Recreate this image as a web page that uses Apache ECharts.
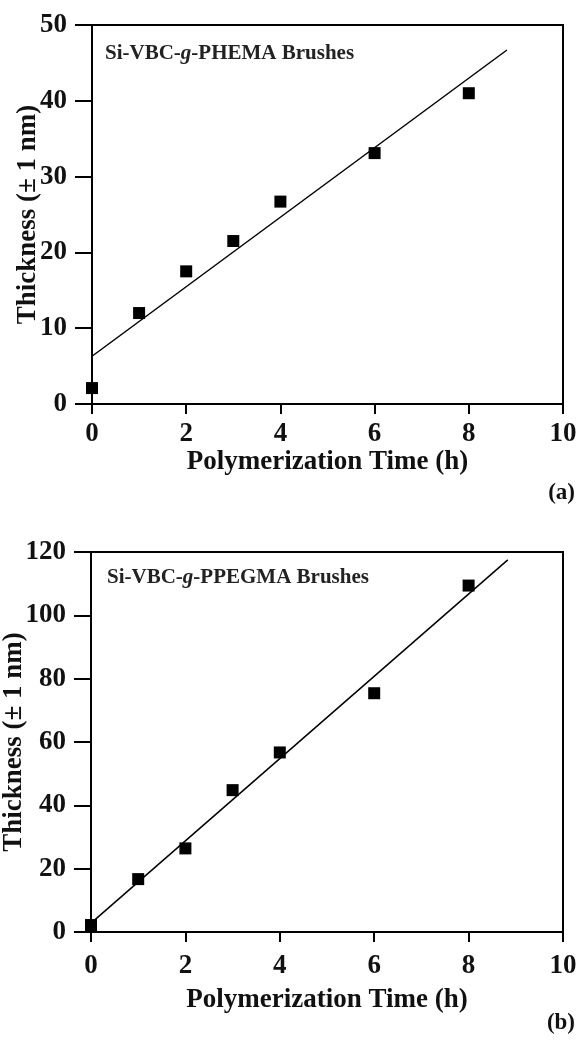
<!DOCTYPE html>
<html>
<head>
<meta charset="utf-8">
<script src="https://cdn.jsdelivr.net/npm/echarts@6/dist/echarts.min.js"></script>
<style>
html,body{margin:0;padding:0;background:#fff;}
#c{width:580px;height:1040px;}
</style>
</head>
<body>
<div id="c"></div>
<script>
// ---- data ----
const timeA = [0, 1, 2, 3, 4, 6, 8];
const thickA = [2.1, 12.0, 17.5, 21.5, 26.7, 33.1, 41.0];
const fitTimeA = [0, 8.81];
const fitThickA = [6.3, 46.7];

const timeB = [0, 1, 2, 3, 4, 6, 8];
const thickB = [2.2, 16.7, 26.4, 44.8, 56.7, 75.4, 109.4];
const fitTimeB = [0, 8.83];
const fitThickB = [2.8, 117.5];

const xTicks = [0, 2, 4, 6, 8, 10];
const yTicksA = [0, 10, 20, 30, 40, 50];
const yTicksB = [0, 20, 40, 60, 80, 100, 120];

const xName = 'Polymerization Time (h)';
const yName = 'Thickness (\u00B1 1 nm)';
const labelA = 'Si-VBC-{i|g}-PHEMA Brushes';
const labelB = 'Si-VBC-{i|g}-PPEGMA Brushes';
const panelA = '(a)';
const panelB = '(b)';

// ---- chart ----
const FONT = '"Liberation Serif", "Times New Roman", serif';
const pairs = (xs, ys) => xs.map((x, i) => [x, ys[i]]);

function xAxis(gi, labelMargin, nameGap) {
  return {
    type: 'value', gridIndex: gi, min: xTicks[0], max: xTicks[xTicks.length - 1], interval: 2,
    name: xName, nameLocation: 'middle', nameGap: nameGap, nameMoveOverlap: false,
    nameTextStyle: { fontFamily: FONT, fontWeight: 'bold', fontSize: 27, color: '#111' },
    axisLine: { show: true, onZero: false, lineStyle: { color: '#000', width: 2 } },
    axisTick: { show: true, inside: false, length: 10, lineStyle: { color: '#000', width: 2 } },
    axisLabel: { margin: labelMargin, fontFamily: FONT, fontWeight: 'bold', fontSize: 27, color: '#111' },
    splitLine: { show: false }
  };
}
function yAxis(gi, ticks, nameGap) {
  return {
    type: 'value', gridIndex: gi, min: ticks[0], max: ticks[ticks.length - 1], interval: ticks[1] - ticks[0],
    name: yName, nameLocation: 'middle', nameGap: nameGap, nameMoveOverlap: false,
    nameTextStyle: { fontFamily: FONT, fontWeight: 'bold', fontSize: 27, color: '#111' },
    axisLine: { show: true, onZero: false, lineStyle: { color: '#000', width: 2 } },
    axisTick: { show: true, inside: false, length: 17, lineStyle: { color: '#000', width: 2 } },
    axisLabel: { margin: 25, fontFamily: FONT, fontWeight: 'bold', fontSize: 27, color: '#111' },
    splitLine: { show: false }
  };
}

const chart = echarts.init(document.getElementById('c'), null, { renderer: 'canvas' });
chart.setOption({
  backgroundColor: '#fff',
  animation: false,
  grid: [
    { left: 92, top: 25, width: 471, height: 379, show: true, borderColor: '#000', borderWidth: 2,
      backgroundColor: 'transparent', containLabel: false, outerBoundsMode: 'none' },
    { left: 91, top: 552, width: 472, height: 380, show: true, borderColor: '#000', borderWidth: 2,
      backgroundColor: 'transparent', containLabel: false, outerBoundsMode: 'none' }
  ],
  xAxis: [xAxis(0, 17, 45), xAxis(1, 21, 55)],
  yAxis: [yAxis(0, yTicksA, 50), yAxis(1, yTicksB, 63)],
  series: [
    { type: 'line', xAxisIndex: 0, yAxisIndex: 0, data: pairs(fitTimeA, fitThickA), showSymbol: false, symbol: 'none',
      lineStyle: { color: '#000', width: 1.5 }, z: 2 },
    { type: 'scatter', xAxisIndex: 0, yAxisIndex: 0, data: pairs(timeA, thickA), symbol: 'rect', symbolSize: 12,
      itemStyle: { color: '#000', opacity: 1 }, z: 3 },
    { type: 'line', xAxisIndex: 1, yAxisIndex: 1, data: pairs(fitTimeB, fitThickB), showSymbol: false, symbol: 'none',
      lineStyle: { color: '#000', width: 1.5 }, z: 2 },
    { type: 'scatter', xAxisIndex: 1, yAxisIndex: 1, data: pairs(timeB, thickB), symbol: 'rect', symbolSize: 12,
      itemStyle: { color: '#000', opacity: 1 }, z: 3 }
  ],
  graphic: [
    { type: 'text', left: 105, top: 43, style: { text: labelA, fill: '#222',
      font: 'bold 21px ' + FONT, rich: { i: { fontStyle: 'italic', fontWeight: 'bold', fontSize: 21, fontFamily: FONT, fill: '#222' } } } },
    { type: 'text', left: 107, top: 567, style: { text: labelB, fill: '#222',
      font: 'bold 21px ' + FONT, rich: { i: { fontStyle: 'italic', fontWeight: 'bold', fontSize: 21, fontFamily: FONT, fill: '#222' } } } },
    { type: 'text', right: 5, top: 482, style: { text: panelA, fill: '#111', font: 'bold 23px ' + FONT } },
    { type: 'text', right: 5, top: 1012, style: { text: panelB, fill: '#111', font: 'bold 23px ' + FONT } }
  ]
});
</script>
</body>
</html>
